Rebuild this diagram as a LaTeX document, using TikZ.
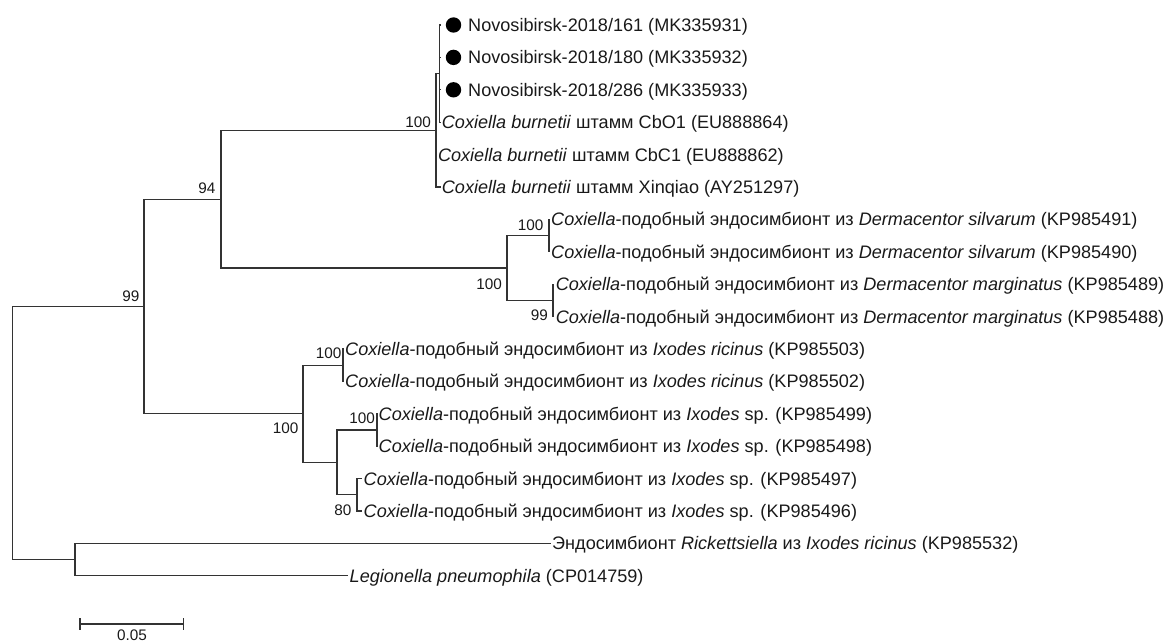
\documentclass[tikz,border=0pt]{standalone}
\usepackage{fontspec}
\setmainfont{Liberation Sans}
\definecolor{linecol}{gray}{0.2}
\definecolor{textcol}{gray}{0.1}
\tikzset{
  branch/.style={draw=linecol, line width=1.25pt},
  leaf/.style={anchor=west, inner xsep=1.2pt, inner ysep=0pt, text height=12.96pt, text depth=0pt,
               font=\fontsize{18.1}{20}\selectfont, text=textcol},
  boot/.style={anchor=east, inner sep=0pt, text height=10.95pt, text depth=0pt,
               font=\fontsize{15.3}{17}\selectfont, text=textcol},
  novdot/.style={circle, fill=black, inner sep=0pt, minimum size=15.4pt},
}
\begin{document}
\begin{tikzpicture}[x=1pt, y=-1pt]
\useasboundingbox (0,0) rectangle (1170,642);
\clip (0,0) rectangle (1170,642);
% internal nodes
\coordinate (R)     at (12.3,433);
\coordinate (N99)   at (144,306.5);
\coordinate (N94)   at (221,199.2);
\coordinate (NCb)   at (436,130.3);
\coordinate (NCbIn) at (439.5,73.6);
\coordinate (NDer)  at (507,268);
\coordinate (NSil)  at (549,235.6);
\coordinate (NMar)  at (553,300.4);
\coordinate (NIx)   at (303,413.8);
\coordinate (NRic)  at (343,365.2);
\coordinate (NIxL)  at (337,462.4);
\coordinate (NSp1)  at (377,430);
\coordinate (NSp2)  at (357,494.8);
\coordinate (NOut)  at (75,559.6);
% Novosibirsk leaves
\coordinate (L1) at (441,25);
\coordinate (L2) at (441,57.4);
\coordinate (L3) at (441,89.8);
\node[novdot] (D1) at (453.5,25) {};
\node[novdot] (D2) at (453.5,57.4) {};
\node[novdot] (D3) at (453.5,89.8) {};
\node[leaf] (T1) at (466.8,25) {Novosibirsk-2018/161 (MK335931)};
\node[leaf] (T2) at (466.8,57.4) {Novosibirsk-2018/180 (MK335932)};
\node[leaf] (T3) at (466.8,89.8) {Novosibirsk-2018/286 (MK335933)};
% other leaves
\node[leaf] (lCbO1) at (440.5,122.2) {\textit{Coxiella burnetii} штамм CbO1 (EU888864)};
\node[leaf] (lCbC1) at (436.6,154.6) {\textit{Coxiella burnetii} штамм CbC1 (EU888862)};
\node[leaf] (lXin)  at (440.5,187) {\textit{Coxiella burnetii} штамм Xinqiao (AY251297)};
\node[leaf] (l91) at (549.8,219.4) {\textit{Coxiella}-подобный эндосимбионт из \textit{Dermacentor silvarum} (KP985491)};
\node[leaf] (l90) at (549.8,251.8) {\textit{Coxiella}-подобный эндосимбионт из \textit{Dermacentor silvarum} (KP985490)};
\node[leaf] (l89) at (554.4,284.2) {\textit{Coxiella}-подобный эндосимбионт из \textit{Dermacentor marginatus} (KP985489)};
\node[leaf] (l88) at (554.4,316.6) {\textit{Coxiella}-подобный эндосимбионт из \textit{Dermacentor marginatus} (KP985488)};
\node[leaf] (l03) at (343.8,349) {\textit{Coxiella}-подобный эндосимбионт из \textit{Ixodes ricinus} (KP985503)};
\node[leaf] (l02) at (343.8,381.4) {\textit{Coxiella}-подобный эндосимбионт из \textit{Ixodes ricinus} (KP985502)};
\node[leaf] (l99) at (377.3,413.8) {\textit{Coxiella}-подобный эндосимбионт из \textit{Ixodes} sp. (KP985499)};
\node[leaf] (l98) at (377.3,446.2) {\textit{Coxiella}-подобный эндосимбионт из \textit{Ixodes} sp. (KP985498)};
\node[leaf] (l97) at (362.3,478.6) {\textit{Coxiella}-подобный эндосимбионт из \textit{Ixodes} sp. (KP985497)};
\node[leaf] (l96) at (362.3,511) {\textit{Coxiella}-подобный эндосимбионт из \textit{Ixodes} sp. (KP985496)};
\node[leaf] (lRik) at (550.8,543.4) {Эндосимбионт \textit{Rickettsiella} из \textit{Ixodes ricinus} (KP985532)};
\node[leaf] (lLeg) at (348.3,575.8) {\textit{Legionella pneumophila} (CP014759)};
% branches
\draw[branch] (R) |- (N99);
\draw[branch] (R) |- (NOut);
\draw[branch] (N99) |- (N94);
\draw[branch] (N99) |- (NIx);
\draw[branch] (N94) |- (NCb);
\draw[branch] (N94) |- (NDer);
\draw[branch] (NCb) |- (NCbIn);
\draw[branch] (NCb) |- (lCbC1.west);
\draw[branch] (NCb) |- (lXin.west);
\draw[branch] (NCbIn) |- (L1);
\draw[branch] (NCbIn) |- (L2);
\draw[branch] (NCbIn) |- (L3);
\draw[branch] (NCbIn) |- (lCbO1.west);
\draw[branch] (NDer) |- (NSil);
\draw[branch] (NDer) |- (NMar);
\draw[branch] (NSil) |- (l91.west);
\draw[branch] (NSil) |- (l90.west);
\draw[branch] (NMar) |- (l89.west);
\draw[branch] (NMar) |- (l88.west);
\draw[branch] (NIx) |- (NRic);
\draw[branch] (NIx) |- (NIxL);
\draw[branch] (NRic) |- (l03.west);
\draw[branch] (NRic) |- (l02.west);
\draw[branch] (NIxL) |- (NSp1);
\draw[branch] (NIxL) |- (NSp2);
\draw[branch] (NSp1) |- (l99.west);
\draw[branch] (NSp1) |- (l98.west);
\draw[branch] (NSp2) |- (l97.west);
\draw[branch] (NSp2) |- (l96.west);
\draw[branch] (NOut) |- (lRik.west);
\draw[branch] (NOut) |- (lLeg.west);
% bootstrap values
\node[boot] (b1)  at (431,122.5) {100};
\node[boot] (b2)  at (215.5,188) {94};
\node[boot] (b3)  at (139.5,296) {99};
\node[boot] (b4)  at (502,284) {100};
\node[boot] (b5)  at (543.5,225) {100};
\node[boot] (b6)  at (548,315) {99};
\node[boot] (b7)  at (298.5,428) {100};
\node[boot] (b8)  at (341.5,353) {100};
\node[boot] (b9)  at (375,418) {100};
\node[boot] (b10) at (351.7,510) {80};
% scale bar
\coordinate (S1) at (80,624);
\coordinate (S2) at (183.7,624);
\draw[branch] (S1) -- (S2);
\draw[branch] ([yshift=6pt]S1) -- ([yshift=-6pt]S1);
\draw[branch] ([yshift=6pt]S2) -- ([yshift=-6pt]S2);
\node[anchor=base, inner sep=0pt, font=\fontsize{15.3}{17}\selectfont, text=textcol] (SL) at (132,640.5) {0.05};
\end{tikzpicture}
\end{document}
